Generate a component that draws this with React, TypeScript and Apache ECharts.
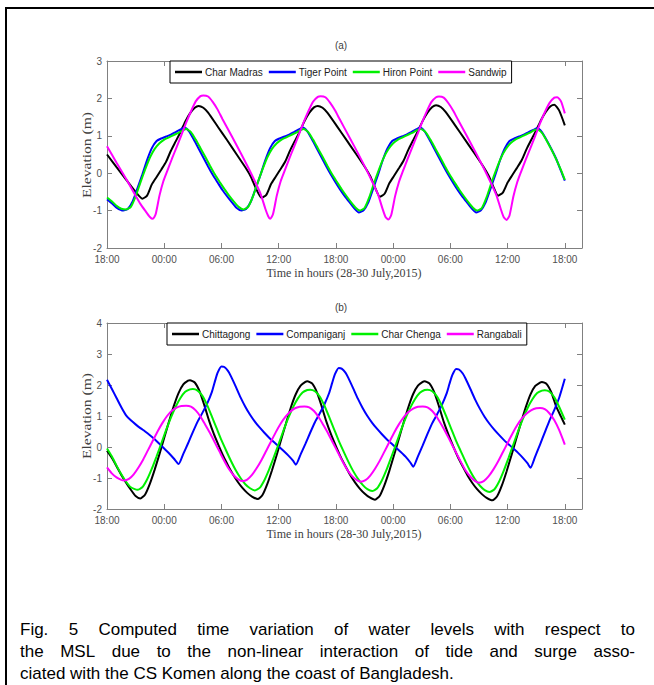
import React, { useEffect, useRef } from 'react';
import * as echarts from 'echarts';

// ---------- text ----------
const hourTickLabels = ['18:00', '00:00', '06:00', '12:00', '18:00', '00:00', '06:00', '12:00', '18:00'];
const panelTitles = ['(a)', '(b)'];
const xAxisTitle = 'Time in hours (28-30 July,2015)';
const yAxisTitle = 'Elevation (m)';
const topNames = ['Char Madras', 'Tiger Point', 'Hiron Point', 'Sandwip'];
const bottomNames = ['Chittagong', 'Companiganj', 'Char Chenga', 'Rangabali'];
const captionLines = [
  'Fig. 5 Computed time variation of water levels with respect to',
  'the MSL due to the non-linear interaction of tide and surge asso-',
  'ciated with the CS Komen along the coast of Bangladesh.',
];

// ---------- data: [hours since 18:00 28 July, elevation m] ----------
const charMadras = [
  [0, 0.5], [1, 0.16], [2, -0.17], [3, -0.5], [3.7, -0.68],
  [4.2, -0.6], [4.7, -0.3], [5.2, -0.1], [5.7, 0.1], [6.2, 0.31], [6.7, 0.6], [7.2, 0.85], [7.7, 1.1], [8.2, 1.38], [8.7, 1.6], [9.2, 1.75], [9.6, 1.8],
  [10.1, 1.75], [10.6, 1.62], [11.6, 1.25], [12.6, 0.88], [13.6, 0.5], [14.6, 0.12], [15.1, -0.1], [15.6, -0.4], [16.2, -0.66],
  [16.7, -0.58], [17.2, -0.29], [17.7, -0.09], [18.2, 0.11], [18.7, 0.32], [19.2, 0.61], [19.7, 0.86], [20.2, 1.11], [20.7, 1.39], [21.2, 1.61], [21.7, 1.76], [22.1, 1.8],
  [22.6, 1.75], [23.1, 1.62], [24.1, 1.26], [25.1, 0.89], [26.1, 0.52], [27.1, 0.14], [27.6, -0.08], [28.1, -0.38], [28.6, -0.63],
  [29.1, -0.55], [29.6, -0.27], [30.1, -0.07], [30.6, 0.13], [31.1, 0.34], [31.6, 0.63], [32.1, 0.88], [32.6, 1.13], [33.1, 1.4], [33.6, 1.62], [34.1, 1.77], [34.5, 1.82],
  [35, 1.77], [35.5, 1.64], [36.5, 1.28], [37.5, 0.91], [38.5, 0.54], [39.5, 0.16], [40, -0.06], [40.5, -0.36], [41, -0.6],
  [41.5, -0.52], [42, -0.25], [42.5, -0.05], [43, 0.15], [43.5, 0.36], [44, 0.65], [44.5, 0.9], [45, 1.15], [45.5, 1.42], [46, 1.64], [46.5, 1.79], [46.9, 1.83],
  [47.4, 1.68], [48, 1.28],
];
const tigerPoint = [
  [0, -0.7], [0.5, -0.8], [1, -0.92], [1.7, -1.0],
  [2.2, -0.95], [2.7, -0.75], [3.2, -0.4], [3.7, -0.04], [4.2, 0.35], [4.7, 0.67], [5.2, 0.86], [5.7, 0.93], [6.2, 0.98], [6.7, 1.03], [7.2, 1.1], [7.7, 1.17], [8.1, 1.22],
  [8.6, 1.12], [9.1, 0.9], [9.6, 0.66], [10.1, 0.42], [10.6, 0.18], [11.1, -0.05], [11.6, -0.25], [12.1, -0.45], [12.6, -0.62], [13.1, -0.78], [13.6, -0.93], [14.1, -1.0],
  [14.6, -0.95], [15.1, -0.75], [15.6, -0.4], [16.1, -0.04], [16.6, 0.35], [17.1, 0.67], [17.6, 0.86], [18.1, 0.93], [18.6, 0.98], [19.1, 1.03], [19.6, 1.1], [20.1, 1.17], [20.5, 1.22],
  [21, 1.12], [21.5, 0.9], [22, 0.66], [22.5, 0.42], [23, 0.18], [23.5, -0.05], [24, -0.26], [24.5, -0.46], [25, -0.64], [25.5, -0.8], [26, -0.96], [26.4, -1.05],
  [26.9, -0.99], [27.4, -0.78], [27.9, -0.42], [28.4, -0.05], [28.9, 0.34], [29.4, 0.66], [29.9, 0.86], [30.4, 0.93], [30.9, 0.98], [31.4, 1.03], [31.9, 1.1], [32.4, 1.17], [32.8, 1.22],
  [33.3, 1.12], [33.8, 0.9], [34.3, 0.66], [34.8, 0.42], [35.3, 0.18], [35.8, -0.05], [36.3, -0.26], [36.8, -0.46], [37.3, -0.64], [37.8, -0.8], [38.3, -0.96], [38.7, -1.05],
  [39.2, -0.99], [39.7, -0.78], [40.2, -0.42], [40.7, -0.05], [41.2, 0.34], [41.7, 0.66], [42.2, 0.86], [42.7, 0.93], [43.2, 0.98], [43.7, 1.03], [44.2, 1.1], [44.7, 1.16], [45.1, 1.2],
  [45.6, 1.1], [46.1, 0.88], [46.6, 0.64], [47.1, 0.38], [47.6, 0.06], [48, -0.2],
];
const hironPoint = [
  [0, -0.65], [0.5, -0.75], [1, -0.87], [1.5, -0.95], [2, -0.97],
  [2.5, -0.9], [3, -0.62], [3.5, -0.25], [4, 0.1], [4.5, 0.42], [5, 0.65], [5.5, 0.8], [6, 0.9], [6.5, 0.96], [7, 1.02], [7.5, 1.08], [8, 1.15], [8.3, 1.18],
  [8.8, 1.1], [9.3, 0.9], [9.8, 0.67], [10.3, 0.44], [10.8, 0.2], [11.3, -0.03], [11.8, -0.23], [12.3, -0.42], [12.8, -0.6], [13.3, -0.76], [13.8, -0.9], [14.3, -0.97],
  [14.8, -0.9], [15.3, -0.62], [15.8, -0.25], [16.3, 0.1], [16.8, 0.42], [17.3, 0.65], [17.8, 0.8], [18.3, 0.9], [18.8, 0.96], [19.3, 1.02], [19.8, 1.08], [20.3, 1.15], [20.6, 1.18],
  [21.1, 1.1], [21.6, 0.9], [22.1, 0.67], [22.6, 0.44], [23.1, 0.2], [23.6, -0.03], [24.1, -0.23], [24.6, -0.43], [25.1, -0.61], [25.6, -0.78], [26.1, -0.93], [26.5, -1.0],
  [27, -0.93], [27.5, -0.64], [28, -0.26], [28.5, 0.09], [29, 0.41], [29.5, 0.64], [30, 0.8], [30.5, 0.9], [31, 0.96], [31.5, 1.02], [32, 1.08], [32.5, 1.15], [32.9, 1.18],
  [33.4, 1.1], [33.9, 0.9], [34.4, 0.67], [34.9, 0.44], [35.4, 0.2], [35.9, -0.03], [36.4, -0.23], [36.9, -0.43], [37.4, -0.61], [37.9, -0.78], [38.4, -0.93], [38.8, -1.0],
  [39.3, -0.93], [39.8, -0.64], [40.3, -0.26], [40.8, 0.09], [41.3, 0.41], [41.8, 0.64], [42.3, 0.8], [42.8, 0.9], [43.3, 0.96], [43.8, 1.02], [44.3, 1.08], [44.8, 1.15], [45.1, 1.17],
  [45.6, 1.08], [46.1, 0.87], [46.6, 0.63], [47.1, 0.37], [47.6, 0.08], [48, -0.18],
];
const sandwip = [
  [0, 0.72], [1, 0.28], [2, -0.15], [3, -0.6], [3.5, -0.82], [4, -1.0], [4.5, -1.17], [4.8, -1.22],
  [5.1, -1.1], [5.5, -0.6], [5.9, -0.22], [6.3, 0.05], [6.8, 0.38], [7.3, 0.7], [7.8, 1.02], [8.3, 1.35], [8.8, 1.65], [9.3, 1.92], [9.8, 2.06], [10.1, 2.08],
  [10.6, 2.05], [11.1, 1.9], [11.6, 1.7], [12.1, 1.45], [13.1, 0.98], [14.1, 0.5], [15.1, 0.0], [16.1, -0.55], [16.6, -0.95], [16.9, -1.15], [17.1, -1.22],
  [17.4, -1.1], [17.8, -0.6], [18.2, -0.22], [18.6, 0.05], [19.1, 0.38], [19.6, 0.7], [20.1, 1.02], [20.6, 1.35], [21.1, 1.65], [21.6, 1.91], [22.1, 2.04], [22.4, 2.06],
  [22.9, 2.03], [23.4, 1.88], [23.9, 1.68], [24.4, 1.44], [25.4, 0.97], [26.4, 0.49], [27.4, -0.01], [28.4, -0.56], [28.9, -0.96], [29.2, -1.17], [29.5, -1.24],
  [29.8, -1.12], [30.2, -0.62], [30.6, -0.24], [31, 0.04], [31.5, 0.37], [32, 0.69], [32.5, 1.01], [33, 1.34], [33.5, 1.64], [34, 1.9], [34.5, 2.03], [34.8, 2.05],
  [35.3, 2.02], [35.8, 1.87], [36.3, 1.67], [36.8, 1.43], [37.8, 0.96], [38.8, 0.48], [39.8, -0.02], [40.8, -0.57], [41.3, -0.97], [41.6, -1.18], [41.9, -1.25],
  [42.2, -1.13], [42.6, -0.63], [43, -0.25], [43.4, 0.03], [43.9, 0.36], [44.4, 0.68], [44.9, 1.0], [45.4, 1.33], [45.9, 1.63], [46.4, 1.88], [46.9, 2.02], [47.2, 2.03],
  [47.6, 1.92], [48, 1.6],
];

const chittagong = [
  [0, -0.12], [0.5, -0.35], [1, -0.62], [1.5, -0.9], [2, -1.15], [2.5, -1.38], [3, -1.58], [3.5, -1.66],
  [4, -1.53], [4.5, -1.18], [5, -0.73], [5.5, -0.23], [6, 0.3], [6.5, 0.82], [7, 1.32], [7.5, 1.74], [8, 2.02], [8.5, 2.14], [8.7, 2.15],
  [9.2, 2.08], [9.7, 1.8], [10.2, 1.35], [10.7, 0.85], [11.2, 0.42], [11.7, 0.05], [12.2, -0.3], [12.7, -0.6], [13.2, -0.88], [13.7, -1.12], [14.2, -1.32], [14.7, -1.48], [15.2, -1.6], [15.8, -1.68],
  [16.3, -1.55], [16.8, -1.2], [17.3, -0.75], [17.8, -0.25], [18.3, 0.28], [18.8, 0.8], [19.3, 1.3], [19.8, 1.71], [20.3, 1.98], [20.8, 2.1], [21, 2.12],
  [21.5, 2.05], [22, 1.77], [22.5, 1.32], [23, 0.82], [23.5, 0.4], [24, 0.03], [24.5, -0.32], [25, -0.62], [25.5, -0.9], [26, -1.14], [26.5, -1.34], [27, -1.5], [27.5, -1.62], [28.1, -1.7],
  [28.6, -1.57], [29.1, -1.22], [29.6, -0.77], [30.1, -0.26], [30.6, 0.27], [31.1, 0.79], [31.6, 1.29], [32.1, 1.71], [32.6, 1.98], [33.1, 2.1], [33.3, 2.12],
  [33.8, 2.05], [34.3, 1.77], [34.8, 1.32], [35.3, 0.82], [35.8, 0.4], [36.3, 0.02], [36.8, -0.33], [37.3, -0.63], [37.8, -0.92], [38.3, -1.16], [38.8, -1.36], [39.3, -1.52], [39.8, -1.64], [40.4, -1.72],
  [40.9, -1.59], [41.4, -1.24], [41.9, -0.78], [42.4, -0.27], [42.9, 0.26], [43.4, 0.78], [43.9, 1.28], [44.4, 1.7], [44.9, 1.97], [45.4, 2.08], [45.6, 2.1],
  [46.1, 2.03], [46.6, 1.75], [47.1, 1.3], [47.6, 0.98], [48, 0.72],
];
const companiganj = [
  [0, 2.17], [0.5, 1.88], [1, 1.58], [1.5, 1.28], [2, 1.02], [2.5, 0.86], [3, 0.73], [3.5, 0.61], [4, 0.5], [4.5, 0.38], [5, 0.25], [5.5, 0.1], [6, -0.05], [6.5, -0.2], [7, -0.37], [7.5, -0.55],
  [8, -0.22], [8.5, 0.12], [9, 0.48], [9.5, 0.82], [10, 1.1], [10.5, 1.4], [11, 1.78], [11.3, 2.1], [11.6, 2.4], [12, 2.6],
  [12.3, 2.58], [12.7, 2.45], [13, 2.28], [13.5, 1.95], [14, 1.6], [14.5, 1.3], [15, 1.04], [15.5, 0.82], [16, 0.63], [16.5, 0.46], [17, 0.3], [17.5, 0.16], [18, 0.02], [18.5, -0.12], [19, -0.27], [19.5, -0.44], [19.8, -0.57],
  [20.3, -0.24], [20.8, 0.1], [21.3, 0.46], [21.8, 0.8], [22.3, 1.08], [22.8, 1.38], [23.3, 1.75], [23.6, 2.06], [23.9, 2.35], [24.3, 2.55],
  [24.6, 2.53], [25, 2.4], [25.3, 2.23], [25.8, 1.9], [26.3, 1.56], [26.8, 1.26], [27.3, 1.0], [27.8, 0.78], [28.3, 0.59], [28.8, 0.42], [29.3, 0.26], [29.8, 0.12], [30.3, -0.02], [30.8, -0.16], [31.3, -0.31], [31.8, -0.5], [32.1, -0.64],
  [32.6, -0.3], [33.1, 0.05], [33.6, 0.42], [34.1, 0.77], [34.6, 1.05], [35.1, 1.35], [35.6, 1.72], [35.9, 2.03], [36.2, 2.32], [36.6, 2.52],
  [36.9, 2.5], [37.3, 2.37], [37.6, 2.2], [38.1, 1.87], [38.6, 1.53], [39.1, 1.23], [39.6, 0.97], [40.1, 0.75], [40.6, 0.56], [41.1, 0.39], [41.6, 0.23], [42.1, 0.09], [42.6, -0.05], [43.1, -0.19], [43.6, -0.35], [44.1, -0.53], [44.4, -0.67],
  [44.9, -0.3], [45.4, 0.08], [45.9, 0.47], [46.4, 0.86], [46.9, 1.2], [47.4, 1.58], [48, 2.2],
];
const charChenga = [
  [0, -0.05], [0.5, -0.3], [1, -0.6], [1.5, -0.88], [2, -1.12], [2.5, -1.3], [3.2, -1.38],
  [3.7, -1.3], [4.2, -1.05], [4.7, -0.7], [5.2, -0.3], [5.7, 0.12], [6.2, 0.55], [6.7, 0.95], [7.2, 1.3], [7.7, 1.58], [8.2, 1.78], [8.7, 1.86], [9, 1.87],
  [9.5, 1.82], [10, 1.65], [10.5, 1.35], [11, 0.98], [11.5, 0.6], [12, 0.22], [12.5, -0.12], [13, -0.45], [13.5, -0.75], [14, -1.0], [14.5, -1.2], [15, -1.33], [15.5, -1.4],
  [16, -1.32], [16.5, -1.07], [17, -0.72], [17.5, -0.32], [18, 0.1], [18.5, 0.53], [19, 0.93], [19.5, 1.28], [20, 1.56], [20.5, 1.76], [21, 1.84], [21.3, 1.85],
  [21.8, 1.8], [22.3, 1.63], [22.8, 1.33], [23.3, 0.96], [23.8, 0.58], [24.3, 0.2], [24.8, -0.14], [25.3, -0.47], [25.8, -0.77], [26.3, -1.02], [26.8, -1.22], [27.3, -1.36], [27.8, -1.42],
  [28.3, -1.34], [28.8, -1.09], [29.3, -0.74], [29.8, -0.33], [30.3, 0.09], [30.8, 0.52], [31.3, 0.92], [31.8, 1.27], [32.3, 1.55], [32.8, 1.75], [33.3, 1.84], [33.6, 1.85],
  [34.1, 1.8], [34.6, 1.63], [35.1, 1.33], [35.6, 0.96], [36.1, 0.58], [36.6, 0.2], [37.1, -0.14], [37.6, -0.48], [38.1, -0.79], [38.6, -1.05], [39.1, -1.25], [39.6, -1.39], [40.1, -1.45],
  [40.6, -1.37], [41.1, -1.12], [41.6, -0.76], [42.1, -0.35], [42.6, 0.08], [43.1, 0.51], [43.6, 0.91], [44.1, 1.26], [44.6, 1.54], [45.1, 1.74], [45.6, 1.82], [45.9, 1.83],
  [46.4, 1.78], [46.9, 1.6], [47.4, 1.3], [48, 0.88],
];
const rangabali = [
  [0, -0.66], [0.5, -0.85], [1, -0.98], [1.5, -1.06], [1.8, -1.08],
  [2.3, -1.03], [2.8, -0.88], [3.3, -0.66], [3.8, -0.4], [4.3, -0.1], [4.8, 0.2], [5.3, 0.5], [5.8, 0.77], [6.3, 1.0], [6.8, 1.17], [7.3, 1.27], [7.8, 1.32], [8.3, 1.33],
  [8.8, 1.3], [9.3, 1.18], [9.8, 0.98], [10.3, 0.72], [10.8, 0.45], [11.3, 0.15], [11.8, -0.15], [12.3, -0.45], [12.8, -0.72], [13.3, -0.92], [13.8, -1.05], [14.2, -1.1],
  [14.7, -1.05], [15.2, -0.9], [15.7, -0.68], [16.2, -0.42], [16.7, -0.12], [17.2, 0.18], [17.7, 0.48], [18.2, 0.75], [18.7, 0.97], [19.2, 1.14], [19.7, 1.25], [20.2, 1.3], [20.7, 1.31],
  [21.2, 1.28], [21.7, 1.16], [22.2, 0.96], [22.7, 0.7], [23.2, 0.43], [23.7, 0.13], [24.2, -0.17], [24.7, -0.47], [25.2, -0.74], [25.7, -0.94], [26.2, -1.07], [26.6, -1.12],
  [27.1, -1.07], [27.6, -0.92], [28.1, -0.7], [28.6, -0.44], [29.1, -0.14], [29.6, 0.16], [30.1, 0.46], [30.6, 0.73], [31.1, 0.96], [31.6, 1.13], [32.1, 1.24], [32.6, 1.3], [33.1, 1.31],
  [33.6, 1.28], [34.1, 1.16], [34.6, 0.96], [35.1, 0.7], [35.6, 0.42], [36.1, 0.12], [36.6, -0.18], [37.1, -0.48], [37.6, -0.76], [38.1, -0.96], [38.6, -1.1], [39, -1.15],
  [39.5, -1.1], [40, -0.95], [40.5, -0.73], [41, -0.47], [41.5, -0.17], [42, 0.13], [42.5, 0.43], [43, 0.7], [43.5, 0.92], [44, 1.08], [44.5, 1.19], [45, 1.25], [45.4, 1.26],
  [45.9, 1.22], [46.4, 1.08], [46.9, 0.86], [47.4, 0.55], [48, 0.08],
];

const topData = [charMadras, tigerPoint, hironPoint, sandwip];
const bottomData = [chittagong, companiganj, charChenga, rangabali];
const lineColors = ['#000000', '#0000ff', '#00f000', '#ff00ff'];

const topYRange = [-2, 3];
const bottomYRange = [-2, 4];
const xRange = [0, 49.8];
const xInterval = 6;

// ---------- styling ----------
const sansFont = "'Liberation Sans', Arial, sans-serif";
const serifFont = "'Liberation Serif', 'Times New Roman', 'DejaVu Serif', serif";
const axisGrey = '#808080';
const labelGrey = '#505050';

function hourLabel(v: number) {
  const r = Math.round(v);
  if (Math.abs(v - r) > 1e-6 || r % xInterval !== 0 || r > 48) return '';
  return hourTickLabels[r / xInterval];
}

function xAxes(gridIndex: number) {
  const base: any = {
    type: 'value', gridIndex, min: xRange[0], max: xRange[1], interval: xInterval,
    axisLine: { show: true, onZero: false, lineStyle: { color: axisGrey, width: 1 } },
    axisTick: { show: true, inside: true, length: 5, lineStyle: { color: axisGrey } },
    splitLine: { show: false },
  };
  return [
    { ...base, position: 'bottom', axisLabel: { show: true, formatter: hourLabel, color: labelGrey, fontSize: 10, fontFamily: sansFont, margin: 6, showMaxLabel: false } },
    { ...base, position: 'top', axisLabel: { show: false } },
  ];
}

function yAxes(gridIndex: number, range: number[]) {
  const base: any = {
    type: 'value', gridIndex, min: range[0], max: range[1], interval: 1,
    axisLine: { show: true, onZero: false, lineStyle: { color: axisGrey, width: 1 } },
    axisTick: { show: true, inside: true, length: 5, lineStyle: { color: axisGrey } },
    splitLine: { show: false },
  };
  return [
    { ...base, position: 'left', axisLabel: { show: true, color: labelGrey, fontSize: 10, fontFamily: sansFont, margin: 5 } },
    { ...base, position: 'right', axisLabel: { show: false } },
  ];
}

function captionElements() {
  const fontSize = 17;
  const font = `${fontSize}px ${sansFont}`;
  const left = 20;
  const right = 635;
  const firstY = 629;
  const gap = 22;
  const ctx = document.createElement('canvas').getContext('2d') as CanvasRenderingContext2D;
  ctx.font = font;
  const els: any[] = [];
  captionLines.forEach((line, i) => {
    const y = firstY + i * gap;
    if (i < captionLines.length - 1) {
      const words = line.split(' ');
      const widths = words.map((w) => ctx.measureText(w).width);
      const total = widths.reduce((a, b) => a + b, 0);
      const space = (right - left - total) / (words.length - 1);
      let x = left;
      words.forEach((w, j) => {
        els.push({ type: 'text', x, y, style: { text: w, fill: '#000', fontSize, fontFamily: sansFont, align: 'left', verticalAlign: 'middle' } });
        x += widths[j] + space;
      });
    } else {
      els.push({ type: 'text', x: left, y, style: { text: line, fill: '#000', fontSize, fontFamily: sansFont, align: 'left', verticalAlign: 'middle' } });
    }
  });
  return els;
}

function buildOption(): any {
  const series: any[] = [];
  topNames.forEach((name, i) => series.push({
    name, type: 'line', xAxisIndex: 0, yAxisIndex: 0, data: topData[i], symbol: 'none', showSymbol: false,
    smooth: 0.2, lineStyle: { color: lineColors[i], width: 2 }, itemStyle: { color: lineColors[i] }, z: 2 + i,
  }));
  bottomNames.forEach((name, i) => series.push({
    name, type: 'line', xAxisIndex: 2, yAxisIndex: 2, data: bottomData[i], symbol: 'none', showSymbol: false,
    smooth: 0.2, lineStyle: { color: lineColors[i], width: 2 }, itemStyle: { color: lineColors[i] }, z: 2 + i,
  }));

  const legendBase: any = {
    orient: 'horizontal', icon: 'rect', itemWidth: 27, itemHeight: 2.5, itemGap: 6, padding: [6, 5],
    borderColor: '#000', borderWidth: 1, backgroundColor: '#fff',
    textStyle: { color: '#222', fontSize: 10, fontFamily: sansFont, padding: [0, 0, 0, -2] },
    selectedMode: false,
  };

  const labelText = (x: number, y: number, text: string) => ({
    type: 'text', x, y, style: { text, fill: '#404040', fontSize: 12, fontFamily: serifFont, align: 'center', verticalAlign: 'middle' },
  });

  return {
    animation: false,
    backgroundColor: '#fff',
    grid: [
      { left: 107, top: 61, width: 475, height: 187 },
      { left: 107, top: 323, width: 475, height: 186 },
    ],
    xAxis: [...xAxes(0), ...xAxes(1)],
    yAxis: [...yAxes(0, topYRange), ...yAxes(1, bottomYRange)],
    legend: [
      { ...legendBase, data: topNames, left: 170, top: 61 },
      { ...legendBase, data: bottomNames, left: 167, top: 323 },
    ],
    series,
    graphic: [
      { type: 'rect', shape: { x: 6, y: 8, width: 700, height: 700 }, style: { fill: 'none', stroke: '#000', lineWidth: 2 }, silent: true },
      { type: 'text', x: 341, y: 45, style: { text: panelTitles[0], fill: '#404040', fontSize: 10, fontFamily: sansFont, align: 'center', verticalAlign: 'middle' } },
      { type: 'text', x: 341, y: 307, style: { text: panelTitles[1], fill: '#404040', fontSize: 10, fontFamily: sansFont, align: 'center', verticalAlign: 'middle' } },
      labelText(344, 273, xAxisTitle),
      labelText(344, 534, xAxisTitle),
      { type: 'text', x: 86, y: 155, rotation: Math.PI / 2, scaleX: 1.2, style: { text: yAxisTitle, fill: '#404040', fontSize: 13, fontFamily: serifFont, align: 'center', verticalAlign: 'middle' } },
      { type: 'text', x: 86, y: 416, rotation: Math.PI / 2, scaleX: 1.2, style: { text: yAxisTitle, fill: '#404040', fontSize: 13, fontFamily: serifFont, align: 'center', verticalAlign: 'middle' } },
      ...captionElements(),
    ],
  };
}

export default function App() {
  const ref = useRef<HTMLDivElement>(null);
  useEffect(() => {
    if (!ref.current) return;
    const chart = echarts.init(ref.current, null, { renderer: 'svg' });
    chart.setOption(buildOption());
    return () => chart.dispose();
  }, []);
  return (
    <div
      ref={ref}
      style={{ position: 'absolute', left: 0, top: 0, width: 654, height: 685, background: '#fff' }}
    />
  );
}
